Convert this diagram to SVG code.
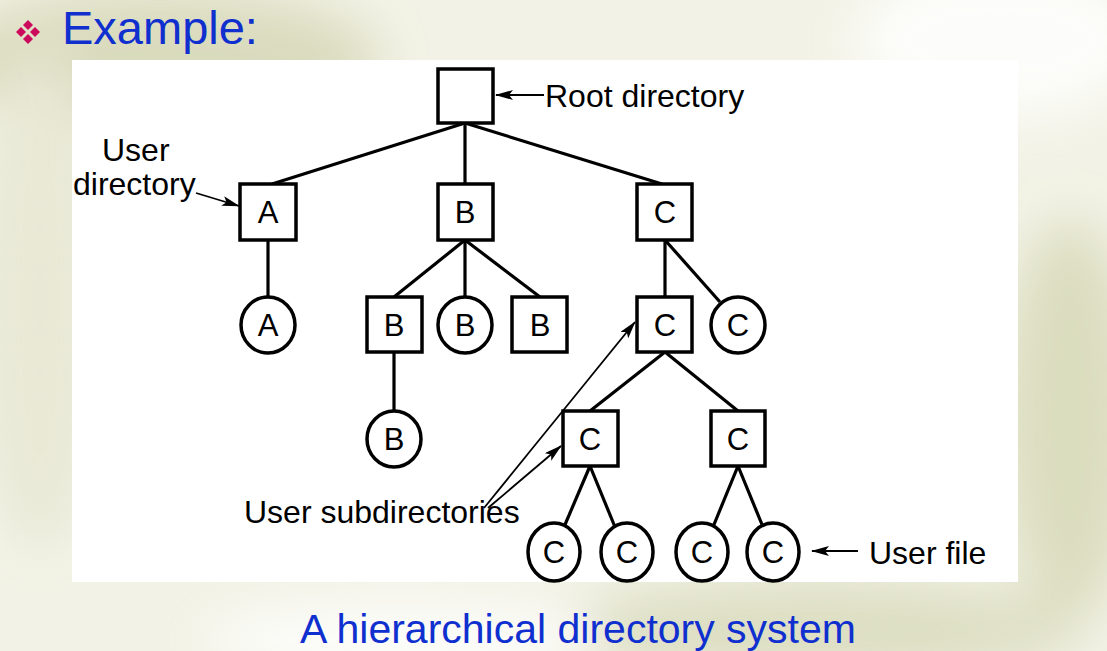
<svg xmlns="http://www.w3.org/2000/svg" width="1107" height="651" viewBox="0 0 1107 651">
<style>
.box{fill:#fff;stroke:#000;stroke-width:3.5}
.circ{fill:#fff;stroke:#000;stroke-width:3.5}
.edge{stroke:#000;stroke-width:3.2;fill:none}
.ptr{stroke:#000;stroke-width:1.8;fill:none;marker-end:url(#ah)}
.lbl{font-family:"Liberation Sans",Arial,sans-serif;font-size:32px;fill:#000}
.nl{font-family:"Liberation Sans",Arial,sans-serif;font-size:31px;fill:#000;text-anchor:middle}
.blue{font-family:"Liberation Sans",Arial,sans-serif;fill:#0f2fcf}
</style>
<defs>
<marker id="ah" markerWidth="18" markerHeight="10" refX="17" refY="5" orient="auto" markerUnits="userSpaceOnUse">
<path d="M0,0 L18,5 L0,10 L4,5 Z" fill="#000"/>
</marker>
<filter id="blur" x="-50%" y="-50%" width="200%" height="200%"><feGaussianBlur stdDeviation="25"/></filter>
</defs>
<g id="background">
<rect width="1107" height="651" fill="#f2f2e6"/>
<g filter="url(#blur)" opacity="0.8">
<ellipse cx="160" cy="60" rx="220" ry="70" fill="#d4d6b4"/>
<ellipse cx="40" cy="300" rx="60" ry="250" fill="#e6e6d2"/>
<ellipse cx="1070" cy="420" rx="70" ry="200" fill="#d6d8b6"/>
<ellipse cx="820" cy="630" rx="260" ry="50" fill="#d8dabb"/>
<ellipse cx="1000" cy="40" rx="150" ry="80" fill="#ffffff"/>
<ellipse cx="400" cy="640" rx="200" ry="40" fill="#ffffff"/>
</g>
<rect x="72" y="60" width="946" height="522" fill="#fff"/>
</g>
<g id="title">
<g fill="#cc0a5c">
<path d="M28,20 L33,25 L28,30 L23,25 Z"/>
<path d="M21,27 L26,32 L21,37 L16,32 Z"/>
<path d="M35,27 L40,32 L35,37 L30,32 Z"/>
<path d="M28,34 L33,39 L28,44 L23,39 Z"/>
</g>
<text class="blue" x="62" y="44" font-size="47">Example:</text>
</g>
<g id="connectors">
<line class="edge" x1="465" y1="123" x2="272" y2="184"/>
<line class="edge" x1="465" y1="123" x2="465" y2="184"/>
<line class="edge" x1="465" y1="123" x2="662" y2="184"/>
<line class="edge" x1="268" y1="240" x2="268" y2="297"/>
<line class="edge" x1="465" y1="240" x2="394" y2="297"/>
<line class="edge" x1="465" y1="240" x2="465" y2="297"/>
<line class="edge" x1="465" y1="240" x2="540" y2="297"/>
<line class="edge" x1="394" y1="352" x2="394" y2="411"/>
<line class="edge" x1="665" y1="240" x2="665" y2="297"/>
<line class="edge" x1="665" y1="240" x2="720" y2="302"/>
<line class="edge" x1="665" y1="352" x2="590" y2="411"/>
<line class="edge" x1="665" y1="352" x2="738" y2="411"/>
<line class="edge" x1="590" y1="466" x2="564" y2="527"/>
<line class="edge" x1="590" y1="466" x2="615" y2="527"/>
<line class="edge" x1="738" y1="466" x2="713" y2="527"/>
<line class="edge" x1="738" y1="466" x2="763" y2="527"/>
<line class="ptr" x1="544" y1="95" x2="496" y2="95"/>
<line class="ptr" x1="196" y1="193" x2="239" y2="206"/>
<line class="ptr" x1="484" y1="508" x2="635" y2="322"/>
<line class="ptr" x1="488" y1="508" x2="561" y2="446"/>
<line class="ptr" x1="858" y1="551" x2="812" y2="551"/>
</g>
<g id="root"><rect class="box" x="438" y="69" width="55" height="54"/></g>
<g id="dirA"><rect class="box" x="240" y="184" width="56" height="56"/><text class="nl" x="268" y="223">A</text></g>
<g id="dirB"><rect class="box" x="438" y="184" width="55" height="56"/><text class="nl" x="465" y="223">B</text></g>
<g id="dirC"><rect class="box" x="637" y="184" width="55" height="56"/><text class="nl" x="665" y="223">C</text></g>
<g id="fileA"><ellipse class="circ" cx="268" cy="325" rx="27" ry="28"/><text class="nl" x="268" y="336">A</text></g>
<g id="dirB1"><rect class="box" x="367" y="297" width="55" height="55"/><text class="nl" x="394" y="336">B</text></g>
<g id="fileB1"><ellipse class="circ" cx="465" cy="325" rx="27" ry="28"/><text class="nl" x="465" y="336">B</text></g>
<g id="dirB2"><rect class="box" x="512" y="297" width="55" height="55"/><text class="nl" x="540" y="336">B</text></g>
<g id="dirC1"><rect class="box" x="637" y="297" width="55" height="55"/><text class="nl" x="665" y="336">C</text></g>
<g id="fileC1"><ellipse class="circ" cx="738" cy="325" rx="27" ry="28"/><text class="nl" x="738" y="336">C</text></g>
<g id="fileB2"><ellipse class="circ" cx="394" cy="439" rx="27" ry="28"/><text class="nl" x="394" y="450">B</text></g>
<g id="dirC2"><rect class="box" x="563" y="411" width="55" height="55"/><text class="nl" x="590" y="450">C</text></g>
<g id="dirC3"><rect class="box" x="711" y="411" width="54" height="55"/><text class="nl" x="738" y="450">C</text></g>
<g id="fileC2"><ellipse class="circ" cx="554" cy="552" rx="26" ry="29"/><text class="nl" x="554" y="563">C</text></g>
<g id="fileC3"><ellipse class="circ" cx="627" cy="552" rx="26" ry="29"/><text class="nl" x="627" y="563">C</text></g>
<g id="fileC4"><ellipse class="circ" cx="702" cy="552" rx="26" ry="29"/><text class="nl" x="702" y="563">C</text></g>
<g id="fileC5"><ellipse class="circ" cx="773" cy="552" rx="26" ry="29"/><text class="nl" x="773" y="563">C</text></g>
<g id="labels">
<text class="lbl" x="545" y="107">Root directory</text>
<text class="lbl" x="102" y="161">User</text>
<text class="lbl" x="73" y="195">directory</text>
<text class="lbl" x="244" y="523">User subdirectories</text>
<text class="lbl" x="869" y="564">User file</text>
</g>
<g id="caption"><text class="blue" x="300" y="643" font-size="41">A hierarchical directory system</text></g>
</svg>
